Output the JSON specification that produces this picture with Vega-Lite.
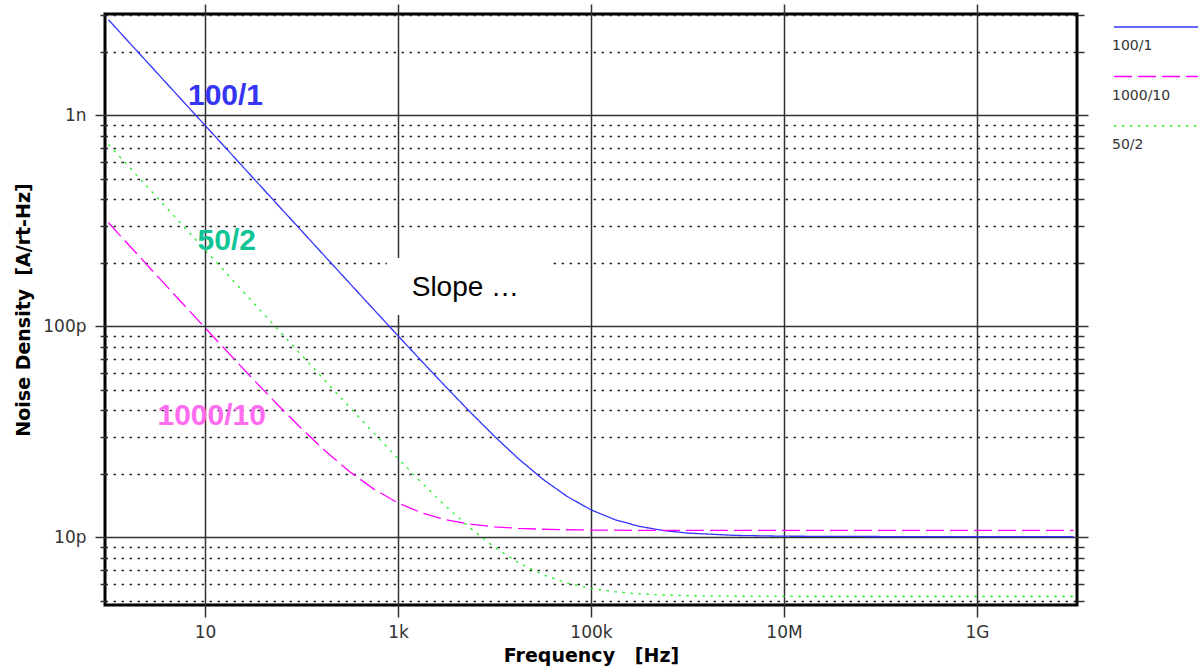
{
  "$schema": "https://vega.github.io/schema/vega-lite/v6.json",
  "width": 972,
  "height": 591,
  "autosize": {"type": "none"},
  "padding": {"left": 105, "top": 14, "right": 121, "bottom": 64},
  "background": "white",
  "config": {
    "view": {"stroke": "black", "strokeWidth": 3},
    "font": "DejaVu Sans",
    "axis": {
      "labelFont": "DejaVu Sans",
      "labelFontSize": 17,
      "labelColor": "#333333",
      "titleFont": "DejaVu Sans",
      "titleFontSize": 19,
      "titleFontWeight": "bold",
      "titleColor": "black",
      "tickColor": "#333333",
      "domain": false,
      "labelOverlap": false,
      "labelFlush": false,
      "labelBound": false
    }
  },
  "datasets": {
    "curves": [
      {"s": "100/1", "f": 1, "v": 2.841e-9},
      {"s": "100/1", "f": 3.162, "v": 1.5975e-9},
      {"s": "100/1", "f": 10, "v": 8.984e-10},
      {"s": "100/1", "f": 31.62, "v": 5.052e-10},
      {"s": "100/1", "f": 56.23, "v": 3.7884e-10},
      {"s": "100/1", "f": 100, "v": 2.8426e-10},
      {"s": "100/1", "f": 177.8, "v": 2.1328e-10},
      {"s": "100/1", "f": 316.2, "v": 1.6007e-10},
      {"s": "100/1", "f": 562.3, "v": 1.2023e-10},
      {"s": "100/1", "f": 1000, "v": 9.040e-11},
      {"s": "100/1", "f": 1778, "v": 6.812e-11},
      {"s": "100/1", "f": 3162, "v": 5.152e-11},
      {"s": "100/1", "f": 5623, "v": 3.921e-11},
      {"s": "100/1", "f": 10000, "v": 3.015e-11},
      {"s": "100/1", "f": 17783, "v": 2.3576e-11},
      {"s": "100/1", "f": 31623, "v": 1.890e-11},
      {"s": "100/1", "f": 56234, "v": 1.5669e-11},
      {"s": "100/1", "f": 100000, "v": 1.3517e-11},
      {"s": "100/1", "f": 177828, "v": 1.2141e-11},
      {"s": "100/1", "f": 316228, "v": 1.1293e-11},
      {"s": "100/1", "f": 562341, "v": 1.0787e-11},
      {"s": "100/1", "f": 1000000, "v": 1.0492e-11},
      {"s": "100/1", "f": 3162278, "v": 1.0226e-11},
      {"s": "100/1", "f": 10000000, "v": 1.0140e-11},
      {"s": "100/1", "f": 100000000, "v": 1.0104e-11},
      {"s": "100/1", "f": 1000000000, "v": 1.0100e-11},
      {"s": "100/1", "f": 10000000000, "v": 1.0100e-11},
      {"s": "1000/10", "f": 1, "v": 3.1003e-10},
      {"s": "1000/10", "f": 3.162, "v": 1.7458e-10},
      {"s": "1000/10", "f": 10, "v": 9.857e-11},
      {"s": "1000/10", "f": 31.62, "v": 5.615e-11},
      {"s": "1000/10", "f": 56.23, "v": 4.2707e-11},
      {"s": "1000/10", "f": 100, "v": 3.2812e-11},
      {"s": "1000/10", "f": 177.8, "v": 2.5624e-11},
      {"s": "1000/10", "f": 316.2, "v": 2.05e-11},
      {"s": "1000/10", "f": 562.3, "v": 1.6952e-11},
      {"s": "1000/10", "f": 1000, "v": 1.4582e-11},
      {"s": "1000/10", "f": 1778, "v": 1.3063e-11},
      {"s": "1000/10", "f": 3162, "v": 1.2124e-11},
      {"s": "1000/10", "f": 5623, "v": 1.1564e-11},
      {"s": "1000/10", "f": 10000, "v": 1.1236e-11},
      {"s": "1000/10", "f": 17783, "v": 1.1047e-11},
      {"s": "1000/10", "f": 31623, "v": 1.0940e-11},
      {"s": "1000/10", "f": 56234, "v": 1.0879e-11},
      {"s": "1000/10", "f": 100000, "v": 1.0844e-11},
      {"s": "1000/10", "f": 177828, "v": 1.0825e-11},
      {"s": "1000/10", "f": 316228, "v": 1.0814e-11},
      {"s": "1000/10", "f": 562341, "v": 1.0808e-11},
      {"s": "1000/10", "f": 1000000, "v": 1.0805e-11},
      {"s": "1000/10", "f": 3162278, "v": 1.0801e-11},
      {"s": "1000/10", "f": 10000000, "v": 1.080e-11},
      {"s": "1000/10", "f": 100000000, "v": 1.080e-11},
      {"s": "1000/10", "f": 1000000000, "v": 1.080e-11},
      {"s": "1000/10", "f": 10000000000, "v": 1.080e-11},
      {"s": "50/2", "f": 1, "v": 7.3007e-10},
      {"s": "50/2", "f": 3.162, "v": 4.1056e-10},
      {"s": "50/2", "f": 10, "v": 2.3087e-10},
      {"s": "50/2", "f": 31.62, "v": 1.2983e-10},
      {"s": "50/2", "f": 56.23, "v": 9.750e-11},
      {"s": "50/2", "f": 100, "v": 7.3196e-11},
      {"s": "50/2", "f": 177.8, "v": 5.5003e-11},
      {"s": "50/2", "f": 316.2, "v": 4.139e-11},
      {"s": "50/2", "f": 562.3, "v": 3.1232e-11},
      {"s": "50/2", "f": 1000, "v": 2.3676e-11},
      {"s": "50/2", "f": 1778, "v": 1.8092e-11},
      {"s": "50/2", "f": 3162, "v": 1.4004e-11},
      {"s": "50/2", "f": 5623, "v": 1.1061e-11},
      {"s": "50/2", "f": 10000, "v": 8.992e-12},
      {"s": "50/2", "f": 17783, "v": 7.585e-12},
      {"s": "50/2", "f": 31623, "v": 6.664e-12},
      {"s": "50/2", "f": 56234, "v": 6.086e-12},
      {"s": "50/2", "f": 100000, "v": 5.735e-12},
      {"s": "50/2", "f": 177828, "v": 5.528e-12},
      {"s": "50/2", "f": 316228, "v": 5.408e-12},
      {"s": "50/2", "f": 562341, "v": 5.339e-12},
      {"s": "50/2", "f": 1000000, "v": 5.300e-12},
      {"s": "50/2", "f": 3162278, "v": 5.266e-12},
      {"s": "50/2", "f": 10000000, "v": 5.253e-12},
      {"s": "50/2", "f": 100000000, "v": 5.250e-12},
      {"s": "50/2", "f": 1000000000, "v": 5.250e-12},
      {"s": "50/2", "f": 10000000000, "v": 5.250e-12}
    ],
    "box": [
      {"f1": 769, "f2": 39400, "v1": 1.133e-10, "v2": 2.11e-10}
    ],
    "labels": [
      {"label": "100/1", "f": 16.3, "v": 1.121e-9},
      {"label": "50/2", "f": 16.8, "v": 2.305e-10},
      {"label": "1000/10", "f": 11.73, "v": 3.413e-11}
    ],
    "slope": [
      {"t": "Slope …", "f": 1387, "v": 1.394e-10}
    ]
  },
  "layer": [
    {
      "data": {"name": "curves"},
      "mark": {"type": "line", "strokeWidth": 1.3, "clip": true},
      "encoding": {
        "x": {
          "field": "f", "type": "quantitative",
          "scale": {"type": "log", "domain": [0.92, 1.087e10], "nice": false},
          "axis": {
            "orient": "bottom",
            "values": [10, 1000, 100000, 10000000, 1000000000],
            "labelExpr": "round(log(datum.value)/LN10) == 1 ? '10' : round(log(datum.value)/LN10) == 3 ? '1k' : round(log(datum.value)/LN10) == 5 ? '100k' : round(log(datum.value)/LN10) == 7 ? '10M' : '1G'",
            "grid": true, "gridColor": "#333333", "gridWidth": 1.5,
            "tickSize": 12, "tickWidth": 1.5, "labelPadding": 7,
            "title": "Frequency\u00a0\u00a0\u00a0[Hz]", "titlePadding": 6
          }
        },
        "y": {
          "field": "v", "type": "quantitative",
          "scale": {"type": "log", "domain": [4.786e-12, 3.027e-9], "nice": false},
          "axis": {
            "orient": "left",
            "values": [5e-12, 6e-12, 7e-12, 8e-12, 9e-12, 1e-11, 2e-11, 3e-11, 4e-11, 5e-11, 6e-11, 7e-11, 8e-11, 9e-11, 1e-10, 2e-10, 3e-10, 4e-10, 5e-10, 6e-10, 7e-10, 8e-10, 9e-10, 1e-9, 2e-9, 3e-9],
            "labelExpr": "abs(log(datum.value)/LN10 + 9) < 0.01 ? '1n' : abs(log(datum.value)/LN10 + 10) < 0.01 ? '100p' : abs(log(datum.value)/LN10 + 11) < 0.01 ? '10p' : ''",
            "grid": true,
            "gridColor": {"condition": {"test": "abs(log(datum.value)/LN10 - round(log(datum.value)/LN10)) < 0.01", "value": "#333333"}, "value": "#222222"},
            "gridDash": {"condition": {"test": "abs(log(datum.value)/LN10 - round(log(datum.value)/LN10)) < 0.01", "value": [1, 0]}, "value": [2.5, 5.5]},
            "gridWidth": {"condition": {"test": "abs(log(datum.value)/LN10 - round(log(datum.value)/LN10)) < 0.01", "value": 1.6}, "value": 1.4},
            "tickSize": {"condition": {"test": "abs(log(datum.value)/LN10 - round(log(datum.value)/LN10)) < 0.01", "value": 10}, "value": 5},
            "tickWidth": 1.5, "labelPadding": 9,
            "title": "Noise Density\u00a0\u00a0[A/rt-Hz]", "titlePadding": 9
          }
        },
        "color": {
          "field": "s", "type": "nominal",
          "scale": {"domain": ["100/1", "1000/10", "50/2"], "range": ["#3333ff", "#ff00ff", "#22ee22"]},
          "legend": {
            "orient": "none", "legendX": 999, "legendY": 3, "title": null,
            "symbolType": "M0,0H10", "symbolSize": 324, "symbolStrokeWidth": 1.5,
            "labelFont": "DejaVu Sans", "labelFontSize": 14, "labelColor": "#333333",
            "rowPadding": 13.5, "labelOffset": 0,
            "encode": {"labels": {"update": {"dx": {"value": -12}, "dy": {"value": 19}}}}
          }
        },
        "strokeDash": {
          "field": "s", "type": "nominal",
          "scale": {"domain": ["100/1", "1000/10", "50/2"], "range": [[1, 0], [18, 6], [2.5, 5.5]]},
          "legend": {
            "orient": "none", "legendX": 999, "legendY": 3, "title": null,
            "symbolType": "M0,0H10", "symbolSize": 324, "symbolStrokeWidth": 1.5,
            "labelFont": "DejaVu Sans", "labelFontSize": 14, "labelColor": "#333333",
            "rowPadding": 13.5, "labelOffset": 0,
            "encode": {"labels": {"update": {"dx": {"value": -12}, "dy": {"value": 19}}}}
          }
        }
      }
    },
    {
      "data": {"name": "box"},
      "mark": {"type": "rect", "fill": "white", "stroke": null},
      "encoding": {
        "x": {
          "field": "f1", "type": "quantitative",
          "scale": {"type": "log", "domain": [0.92, 1.087e10], "nice": false},
          "axis": {
            "orient": "top",
            "values": [10, 1000, 100000, 10000000, 1000000000],
            "labels": false, "grid": false, "tickSize": 10, "tickWidth": 1.5, "title": null
          }
        },
        "x2": {"field": "f2"},
        "y": {
          "field": "v1", "type": "quantitative",
          "scale": {"type": "log", "domain": [4.786e-12, 3.027e-9], "nice": false},
          "axis": {
            "orient": "right",
            "values": [5e-12, 6e-12, 7e-12, 8e-12, 9e-12, 1e-11, 2e-11, 3e-11, 4e-11, 5e-11, 6e-11, 7e-11, 8e-11, 9e-11, 1e-10, 2e-10, 3e-10, 4e-10, 5e-10, 6e-10, 7e-10, 8e-10, 9e-10, 1e-9, 2e-9, 3e-9],
            "labels": false, "grid": false,
            "tickSize": {"condition": {"test": "abs(log(datum.value)/LN10 - round(log(datum.value)/LN10)) < 0.01", "value": 11}, "value": 7},
            "tickWidth": 1.5, "title": null
          }
        },
        "y2": {"field": "v2"}
      }
    },
    {
      "data": {"name": "labels"},
      "transform": [{"filter": "datum.label == '100/1'"}],
      "mark": {"type": "text", "font": "Liberation Sans", "fontWeight": "bold", "fontSize": 30, "align": "center", "baseline": "alphabetic", "color": "#3535f2"},
      "encoding": {
        "x": {"field": "f", "type": "quantitative", "scale": {"type": "log", "domain": [0.92, 1.087e10], "nice": false}, "axis": null},
        "y": {"field": "v", "type": "quantitative", "scale": {"type": "log", "domain": [4.786e-12, 3.027e-9], "nice": false}, "axis": null},
        "text": {"field": "label"}
      }
    },
    {
      "data": {"name": "labels"},
      "transform": [{"filter": "datum.label == '50/2'"}],
      "mark": {"type": "text", "font": "Liberation Sans", "fontWeight": "bold", "fontSize": 30, "align": "center", "baseline": "alphabetic", "color": "#10c496"},
      "encoding": {
        "x": {"field": "f", "type": "quantitative", "scale": {"type": "log", "domain": [0.92, 1.087e10], "nice": false}, "axis": null},
        "y": {"field": "v", "type": "quantitative", "scale": {"type": "log", "domain": [4.786e-12, 3.027e-9], "nice": false}, "axis": null},
        "text": {"field": "label"}
      }
    },
    {
      "data": {"name": "labels"},
      "transform": [{"filter": "datum.label == '1000/10'"}],
      "mark": {"type": "text", "font": "Liberation Sans", "fontWeight": "bold", "fontSize": 30, "align": "center", "baseline": "alphabetic", "color": "#ff6cef"},
      "encoding": {
        "x": {"field": "f", "type": "quantitative", "scale": {"type": "log", "domain": [0.92, 1.087e10], "nice": false}, "axis": null},
        "y": {"field": "v", "type": "quantitative", "scale": {"type": "log", "domain": [4.786e-12, 3.027e-9], "nice": false}, "axis": null},
        "text": {"field": "label"}
      }
    },
    {
      "data": {"name": "slope"},
      "mark": {"type": "text", "font": "Liberation Sans", "fontSize": 28, "align": "left", "baseline": "alphabetic", "color": "black"},
      "encoding": {
        "x": {"field": "f", "type": "quantitative", "scale": {"type": "log", "domain": [0.92, 1.087e10], "nice": false}, "axis": null},
        "y": {"field": "v", "type": "quantitative", "scale": {"type": "log", "domain": [4.786e-12, 3.027e-9], "nice": false}, "axis": null},
        "text": {"field": "t"}
      }
    }
  ],
  "resolve": {"axis": {"x": "independent", "y": "independent"}}
}
